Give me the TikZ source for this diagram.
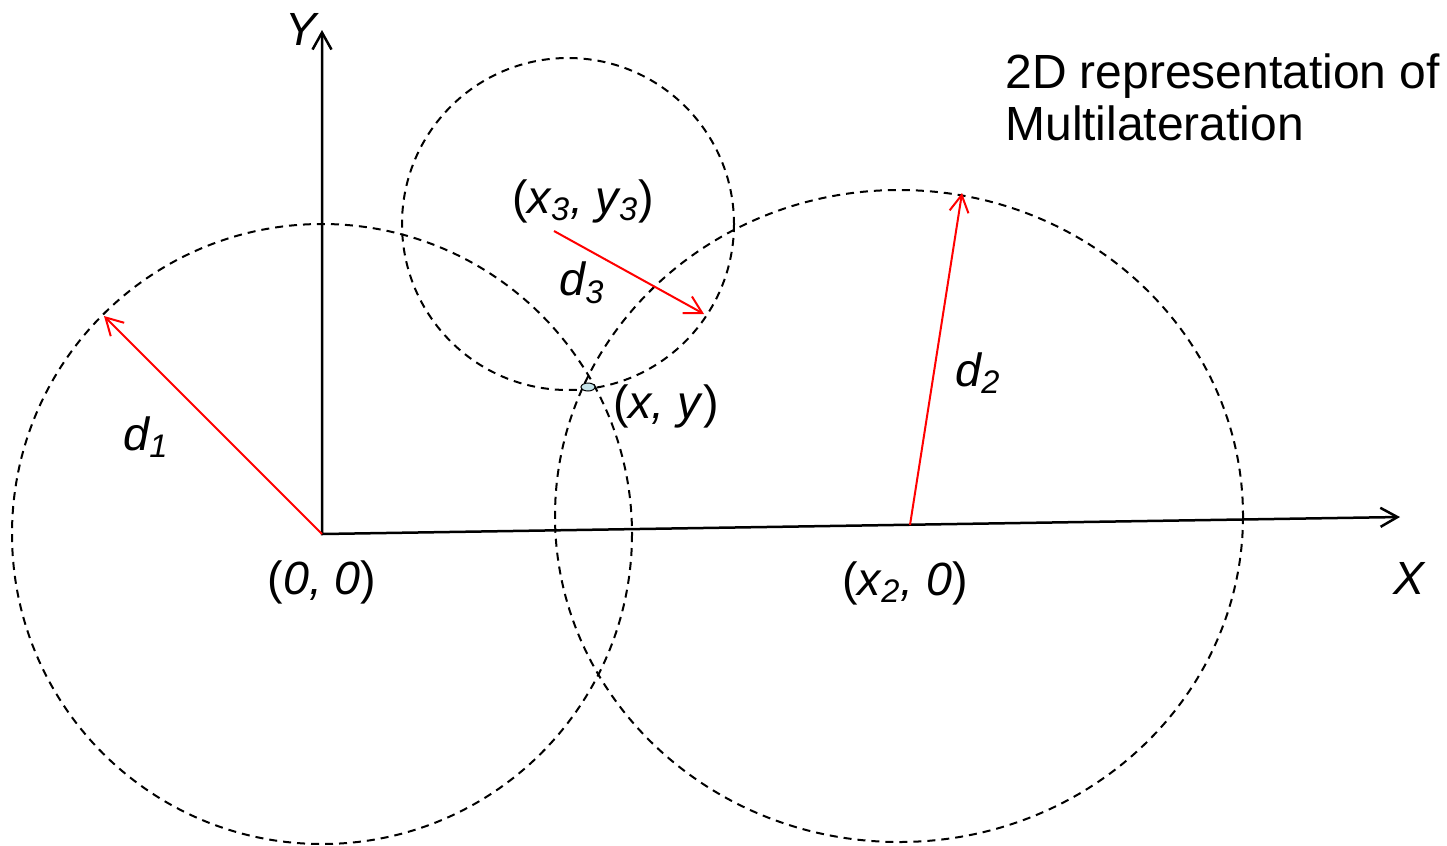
\documentclass[tikz,border=0pt]{standalone}
\usepackage{fontspec}
\setmainfont{Liberation Sans}
\usepackage{xcolor}
\definecolor{redline}{HTML}{FF0000}
\definecolor{spotfill}{HTML}{C6E4EA}
\usepackage{tikz}
\usetikzlibrary{arrows.meta, shapes.geometric}
\tikzset{
    axisarrow/.style = {{Straight Barb[length=3.4mm, width=3.8mm]}-{Straight Barb[length=3.4mm, width=3.8mm]},
                        line width=0.5mm, color=black},
    distarrow/.style = {-{Straight Barb[length=3.4mm, width=3.8mm]}, line width=0.4mm, color=redline},
    ring/.style = {draw=black, line width=0.4mm, dash pattern=on 1.6mm off 1.2mm},
    lbl/.style = {inner sep=0pt, font=\fontsize{26.5}{30}\selectfont},
    caption/.style = {inner sep=0pt, align=left, anchor=north west,
                      font=\fontsize{27.3}{29.6}\selectfont},
    spot/.style = {ellipse, draw=black, fill=spotfill, line width=0.2mm,
                   minimum width=2.8mm, minimum height=1.6mm, inner sep=0pt},
}

\begin{document}
\begin{tikzpicture}[x=0.2mm, y=-0.2mm]
        \useasboundingbox (0,0) rectangle (1447,845);
        \coordinate (O) at (322,534);
        \coordinate (Yend) at (322,30);
        \coordinate (Xend) at (1400,517);
        \coordinate (C2) at (899,516);
        \coordinate (C3) at (568,224);
        \coordinate (A2) at (910,525);
        \coordinate (A3) at (554,231);
        \coordinate (T1) at (104,316);
        \coordinate (T2) at (962,193);
        \coordinate (T3) at (704,314);
        \draw[ring] (O) circle (310);
        \draw[ring] (C2) ellipse [x radius=344, y radius=326];
        \draw[ring] (C3) circle (166);
        \draw[axisarrow] (Yend) -- (O) -- (Xend);
        \draw[distarrow] (O) -- (T1);
        \draw[distarrow] (A2) -- (T2);
        \draw[distarrow] (A3) -- (T3);
        \node[spot] (P) at (588,387) {};
        \node[lbl] (Ylab) at (302,29) {\textit{Y}};
        \node[lbl] (Xlab) at (1410,578) {\textit{X}};
        \node[lbl] (Olab) at (322,582) {(\textit{0, 0})};
        \node[lbl] (X2lab) at (905,583) {(\textit{x\textsubscript{2}, 0})};
        \node[lbl] (X3lab) at (583,201) {(\textit{x\textsubscript{3}, y\textsubscript{3}})};
        \node[lbl] (Plab) at (666,406) {(\textit{x, y})};
        \node[lbl] (D1lab) at (146,437) {\textit{d\textsubscript{1}}};
        \node[lbl] (D2lab) at (978,373) {\textit{d\textsubscript{2}}};
        \node[lbl] (D3lab) at (582,283) {\textit{d\textsubscript{3}}};
        \node[caption] (Title) at (1005,53) {2D representation of\\Multilateration};
      \end{tikzpicture}
\end{document}
